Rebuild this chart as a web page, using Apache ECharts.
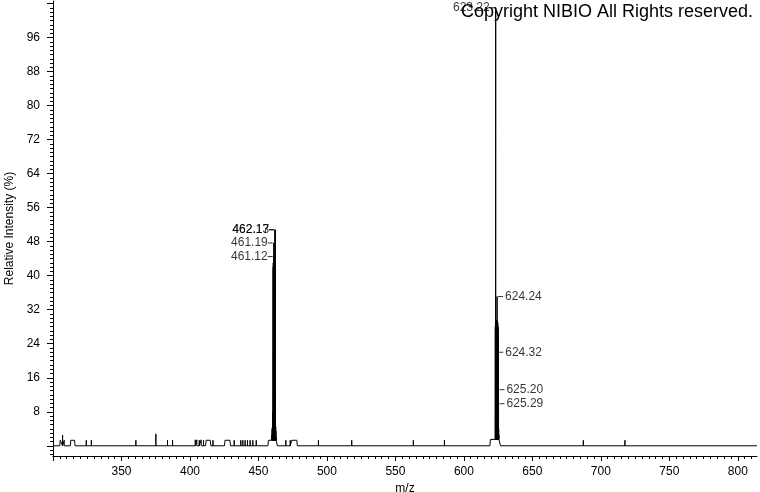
<!DOCTYPE html>
<html>
<head>
<meta charset="utf-8">
<script src="https://cdn.jsdelivr.net/npm/echarts@6/dist/echarts.min.js"></script>
<style>html,body{margin:0;padding:0;background:#fff}#c{width:760px;height:492px}</style>
</head>
<body>
<div id="c"></div>
<script>
// ---- data ----
const xLabels = [350, 400, 450, 500, 550, 600, 650, 700, 750, 800];
const yLabels = [8, 16, 24, 32, 40, 48, 56, 64, 72, 80, 88, 96];

// sticks (m/z, relative intensity %)
const stickMz = [
  307.0, 308.2, 324.3, 328.0, 360.5, 375.1, 383.6, 387.3,
  403.9, 405.0, 406.8, 408.2, 409.9, 416.8, 432.3,
  437.1, 438.6, 440.3, 442.0, 443.9, 445.9, 448.4,
  459.8, 460.0, 460.2, 460.4, 460.6, 460.75, 460.85, 460.95, 461.05, 461.12, 461.19, 461.26,
  461.35, 461.45, 461.55, 461.65, 461.75, 461.85, 461.95, 462.05, 462.13, 462.17, 462.25,
  462.4, 462.6, 462.8, 463.0,
  470.0, 473.2, 493.8, 518.1, 563.1, 585.8,
  622.95, 623.05, 623.15, 623.22, 623.3, 623.4, 623.5, 623.6, 623.7, 623.8, 623.9, 624.0,
  624.1, 624.17, 624.24, 624.32, 624.4, 624.5, 624.6, 624.7, 624.8, 624.9, 625.0, 625.1,
  625.20, 625.29, 625.4, 625.6,
  687.2, 717.6
];
const stickInt = [
  2.5, 1.3, 1.3, 1.3, 1.3, 2.8, 1.3, 1.3,
  1.4, 1.4, 1.3, 1.4, 1.3, 1.3, 1.3,
  1.3, 1.3, 1.3, 1.3, 1.3, 1.3, 1.3,
  2.5, 4.0, 4.5, 5.0, 8.0, 42, 43, 43, 43, 44.5, 47.7, 43,
  43, 43, 42, 42, 42, 42, 42, 43, 50.8, 50.8, 30,
  6.0, 4.5, 3.5, 2.0,
  1.3, 1.3, 1.3, 1.3, 1.3, 1.3,
  28, 29, 29.5, 103, 29.5, 29.5, 29.5, 29.5, 29.5, 29.5, 29.5, 29.5,
  29.5, 29.5, 35.1, 22.0, 29, 29, 29, 29, 28, 28, 27, 25,
  13.2, 9.9, 4.0, 2.5,
  1.3, 1.3
];

// small plateaus of the profile
const humpFrom = [305.3, 313.0, 411.8, 425.6, 457.3, 474.3, 619.4];
const humpTo   = [306.6, 315.7, 414.8, 429.2, 463.4, 478.0, 626.3];
const humpInt  = [1.3, 1.3, 1.3, 1.3, 1.3, 1.3, 1.5];

// annotated peaks
const labelMz = [623.22, 462.13, 462.17, 461.19, 461.12, 624.24, 624.32, 625.20, 625.29];

// ---- build the profile from the arrays ----
function baseAt(m) {
  for (let i = 0; i < humpFrom.length; i++) {
    if (m >= humpFrom[i] && m <= humpTo[i]) return humpInt[i];
  }
  return 0;
}
const pts = [[300, 0], [814, 0]];
for (let i = 0; i < humpFrom.length; i++) {
  pts.push([humpFrom[i] - 0.4, 0], [humpFrom[i], humpInt[i]], [humpTo[i], humpInt[i]], [humpTo[i] + 0.4, 0]);
}
for (let i = 0; i < stickMz.length; i++) {
  const b = baseAt(stickMz[i]);
  pts.push([stickMz[i] - 0.012, b], [stickMz[i], stickInt[i]], [stickMz[i] + 0.012, b]);
}
pts.sort((a, b) => a[0] - b[0]);

const labelData = labelMz.map(m => {
  const v = stickInt[stickMz.indexOf(m)];
  const right = m > 624;
  return {
    value: [m, v],
    label: {
      position: right ? 'right' : 'left',
      formatter: right ? '{l|}{g|}{t|' + m.toFixed(2) + '}' : '{t|' + m.toFixed(2) + '}{l|}'
    }
  };
});

const FONT = 'Liberation Sans, Arial, sans-serif';
const range = (a, b, s) => { const r = []; for (let v = a; v <= b + 1e-9; v += s) r.push(v); return r; };
const xMajor = range(300, 800, 50);
const xMinor = range(305, 810, 5).filter(v => v % 50 !== 0);
const yMajor = range(0, 104, 8);
const yMinor = range(-2, 104, 1).filter(v => v % 8 !== 0);

const chart = echarts.init(document.getElementById('c'), null, {renderer: 'canvas'});
chart.setOption({
  animation: false,
  backgroundColor: '#fff',
  title: {
    text: 'Copyright NIBIO All Rights reserved.',
    right: 7, top: 3, padding: 0,
    textStyle: {fontFamily: FONT, fontSize: 18, fontWeight: 'normal', color: '#000'}
  },
  grid: {left: 53, right: 3, top: 1, bottom: 36, containLabel: false, outerBoundsMode: 'none'},
  xAxis: [
    {
      type: 'value', min: 300, max: 814, position: 'bottom',
      axisLine: {show: true, onZero: false, lineStyle: {color: '#000', width: 1}},
      axisTick: {show: true, length: 5, customValues: xMajor, lineStyle: {color: '#000'}},
      axisLabel: {customValues: xLabels, margin: 10, color: '#000', fontFamily: FONT, fontSize: 12},
      splitLine: {show: false},
      name: 'm/z', nameLocation: 'middle', nameGap: 22,
      nameTextStyle: {fontFamily: FONT, fontSize: 12, color: '#000'}
    },
    {
      type: 'value', min: 300, max: 814, position: 'bottom',
      axisLine: {show: false, onZero: false},
      axisTick: {show: true, length: 3, customValues: xMinor, lineStyle: {color: '#000'}},
      axisLabel: {show: false},
      splitLine: {show: false}
    }
  ],
  yAxis: [
    {
      type: 'value', min: -2.4, max: 104.6, position: 'left',
      axisLine: {show: true, onZero: false, lineStyle: {color: '#000', width: 1}},
      axisTick: {show: true, length: 6, customValues: yMajor, lineStyle: {color: '#000'}},
      axisLabel: {customValues: yLabels, margin: 13, color: '#000', fontFamily: FONT, fontSize: 12},
      splitLine: {show: false},
      name: 'Relative Intensity (%)', nameLocation: 'middle', nameGap: 37,
      nameTextStyle: {fontFamily: FONT, fontSize: 12, color: '#000'}
    },
    {
      type: 'value', min: -2.4, max: 104.6, position: 'left',
      axisLine: {show: false, onZero: false},
      axisTick: {show: true, length: 3, customValues: yMinor, lineStyle: {color: '#000'}},
      axisLabel: {show: false},
      splitLine: {show: false}
    }
  ],
  series: [
    {
      type: 'line', xAxisIndex: 0, yAxisIndex: 0, data: pts,
      showSymbol: false, symbol: 'none', smooth: false,
      lineStyle: {color: '#000', width: 1}, silent: true
    },
    {
      type: 'scatter', xAxisIndex: 0, yAxisIndex: 0, data: labelData,
      symbolSize: 0, silent: true, z: 3,
      label: {
        show: true, distance: 1, color: '#000',
        rich: {
          t: {fontFamily: FONT, fontSize: 12, color: '#000'},
          l: {width: 5, height: 1, backgroundColor: '#000'},
          g: {width: 2, height: 1}
        }
      }
    }
  ]
});
</script>
</body>
</html>
